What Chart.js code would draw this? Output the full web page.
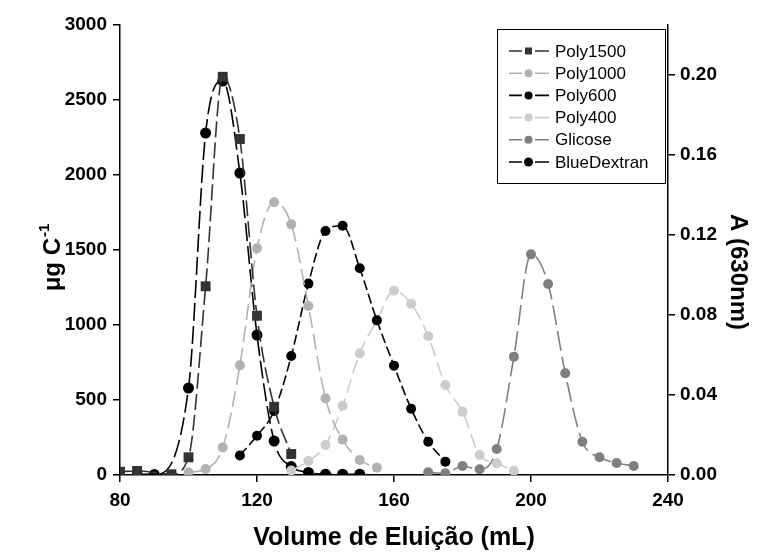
<!DOCTYPE html>
<html>
<head>
<meta charset="utf-8">
<script src="https://cdn.jsdelivr.net/npm/chart.js@4/dist/chart.umd.min.js"></script>
<style>
  html, body { margin: 0; padding: 0; background: #fff; }
  #wrap { width: 757px; height: 554px; }
</style>
</head>
<body>
<div id="wrap"><canvas id="elutionChart" width="757" height="554"></canvas></div>
<script>
// Volumes (mL) and readings for each standard
const poly1500Vol = [80, 85, 95, 100, 105, 110, 115, 120, 125, 130];
const poly1500Val = [22, 27, 5, 118, 1258, 2655, 2240, 1062, 455, 140];

const poly1000Vol = [100, 105, 110, 115, 120, 125, 130, 135, 140, 145, 150, 155];
const poly1000Val = [18, 40, 184, 731, 1511, 1818, 1671, 1127, 511, 236, 100, 49];

const poly600Vol = [115, 120, 125, 130, 135, 140, 145, 150, 155, 160, 165, 170, 175];
const poly600Val = [130, 262, 427, 793, 1276, 1627, 1662, 1378, 1031, 729, 442, 222, 89];

const poly400Vol = [130, 135, 140, 145, 150, 155, 160, 165, 170, 175, 180, 185, 190, 195];
const poly400Val = [30, 93, 200, 462, 811, 1031, 1229, 1142, 925, 600, 422, 133, 78, 29];

const glicoseVol = [170, 175, 180, 185, 190, 195, 200, 205, 210, 215, 220, 225, 230];
const glicoseVal = [18, 11, 60, 38, 173, 789, 1471, 1273, 678, 222, 118, 80, 60];

// Blue Dextran is read as absorbance at 630 nm (right axis)
const blueVol = [85, 90, 100, 105, 110, 115, 120, 125, 130, 135, 140, 145, 150];
const blueAbs = [0.0004, 0.0003, 0.0435, 0.171, 0.197, 0.151, 0.070, 0.017, 0.0042, 0.0013, 0.0004, 0.0004, 0.0004];

const xTicks = [80, 120, 160, 200, 240];
const leftTicks = [0, 500, 1000, 1500, 2000, 2500, 3000];
const rightTicks = [0, 0.04, 0.08, 0.12, 0.16, 0.20];

const FONT = "'Liberation Sans', Arial, sans-serif";

function pts(xs, ys) {
  return xs.map((x, i) => ({ x: x, y: ys[i] }));
}

function series(label, xs, ys, color, dash, shape, radius, axis) {
  return {
    label: label,
    data: pts(xs, ys),
    yAxisID: axis || "y",
    borderColor: color,
    backgroundColor: color,
    pointBackgroundColor: color,
    pointBorderColor: color,
    pointBorderWidth: 0,
    pointStyle: shape,
    pointRadius: radius,
    borderWidth: 1.6,
    borderDash: dash,
    cubicInterpolationMode: "monotone",
    fill: false,
  };
}

const datasets = [
  series("Poly1500", poly1500Vol, poly1500Val, "#333333", [16, 5], "rect", 7),
  series("Poly1000", poly1000Vol, poly1000Val, "#b2b2b2", [16, 6], "circle", 5),
  series("Poly600", poly600Vol, poly600Val, "#000000", [10, 4], "circle", 5),
  series("Poly400", poly400Vol, poly400Val, "#cccccc", [14, 6], "circle", 5),
  series("Glicose", glicoseVol, glicoseVal, "#7f7f7f", [20, 6], "circle", 5),
  series("BlueDextran", blueVol, blueAbs, "#000000", [18, 5], "circle", 5.5, "y2"),
];

// legend drawn like the original: line - marker - line, inside a framed box
// plus the two vertical axis titles (placed by hand, left one has a superscript)
const boxLegend = {
  id: "boxLegend",
  afterDraw(chart) {
    const ctx = chart.ctx;
    const x0 = 497, y0 = 29, w = 168, h = 154;
    ctx.save();
    ctx.fillStyle = "#fff";
    ctx.fillRect(x0, y0, w, h);
    ctx.strokeStyle = "#000";
    ctx.lineWidth = 1;
    ctx.strokeRect(x0 + 0.5, y0 + 0.5, w, h);
    ctx.font = "17px " + FONT;
    ctx.textBaseline = "middle";
    chart.data.datasets.forEach((ds, i) => {
      const y = 51 + i * 22.2;
      ctx.strokeStyle = ds.borderColor;
      ctx.lineWidth = 1.6;
      ctx.beginPath();
      ctx.moveTo(509, y); ctx.lineTo(522, y);
      ctx.moveTo(535, y); ctx.lineTo(549, y);
      ctx.stroke();
      ctx.fillStyle = ds.borderColor;
      if (ds.pointStyle === "rect") {
        ctx.fillRect(525, y - 3.5, 7, 7);
      } else {
        ctx.beginPath();
        ctx.arc(528.5, y, ds.label === "BlueDextran" ? 4.5 : 4, 0, Math.PI * 2);
        ctx.fill();
      }
      ctx.fillStyle = "#000";
      ctx.fillText(ds.label, 555, y + 1);
    });

    // left title: μg C^-1
    ctx.fillStyle = "#000";
    ctx.translate(60, 258);
    ctx.rotate(-Math.PI / 2);
    ctx.textBaseline = "alphabetic";
    const main = "μg C";
    ctx.font = "bold 15px " + FONT;
    const supW = ctx.measureText("-1").width;
    ctx.font = "bold 24px " + FONT;
    const mainW = ctx.measureText(main).width;
    const start = -(mainW + supW) / 2;
    ctx.fillText(main, start, 0);
    ctx.font = "bold 15px " + FONT;
    ctx.fillText("-1", start + mainW + 1, -11);
    ctx.setTransform(1, 0, 0, 1, 0, 0);

    // right title
    ctx.translate(738, 272);
    ctx.rotate(Math.PI / 2);
    ctx.font = "bold 24px " + FONT;
    ctx.textAlign = "center";
    ctx.textBaseline = "middle";
    ctx.fillText("A (630nm)", 0, 0);
    ctx.restore();
  },
};

const tickFont = { family: FONT, size: 19, weight: "bold" };
const titleFont = { family: FONT, size: 25, weight: "bold" };

new Chart(document.getElementById("elutionChart"), {
  type: "line",
  data: { datasets: datasets },
  plugins: [boxLegend],
  options: {
    responsive: false,
    animation: false,
    layout: { padding: { left: 0, top: 25, right: 0, bottom: 0 } },
    plugins: { legend: { display: false }, tooltip: { enabled: false } },
    scales: {
      x: {
        type: "linear",
        min: 80,
        max: 240,
        afterBuildTicks: (s) => { s.ticks = xTicks.map((v) => ({ value: v })); },
        afterFit: (s) => { s.height = 79; },
        border: { display: true, color: "#000", width: 1.5 },
        grid: { drawOnChartArea: false, color: "#000", tickLength: 7, lineWidth: 1.5 },
        ticks: { color: "#000", font: tickFont, padding: 7, maxRotation: 0 },
        title: { display: true, text: "Volume de Eluição (mL)", color: "#000", font: titleFont, padding: { top: 0, bottom: 1 } },
      },
      y: {
        position: "left",
        min: 0,
        max: 3000,
        afterBuildTicks: (s) => { s.ticks = leftTicks.map((v) => ({ value: v })); },
        afterFit: (s) => { s.width = 120; },
        border: { display: true, color: "#000", width: 1.5 },
        grid: { drawOnChartArea: false, color: "#000", tickLength: 7, lineWidth: 1.5 },
        ticks: { color: "#000", font: tickFont, padding: 6, callback: (v) => String(v) },
      },
      y2: {
        position: "right",
        min: 0,
        max: 0.225,
        afterBuildTicks: (s) => { s.ticks = rightTicks.map((v) => ({ value: v })); },
        afterFit: (s) => { s.width = 89; },
        border: { display: true, color: "#000", width: 1.5 },
        grid: { drawOnChartArea: false, color: "#000", tickLength: 7, lineWidth: 1.5 },
        ticks: { color: "#000", font: tickFont, padding: 5, callback: (v) => v.toFixed(2) },
      },
    },
  },
});
</script>
</body>
</html>
